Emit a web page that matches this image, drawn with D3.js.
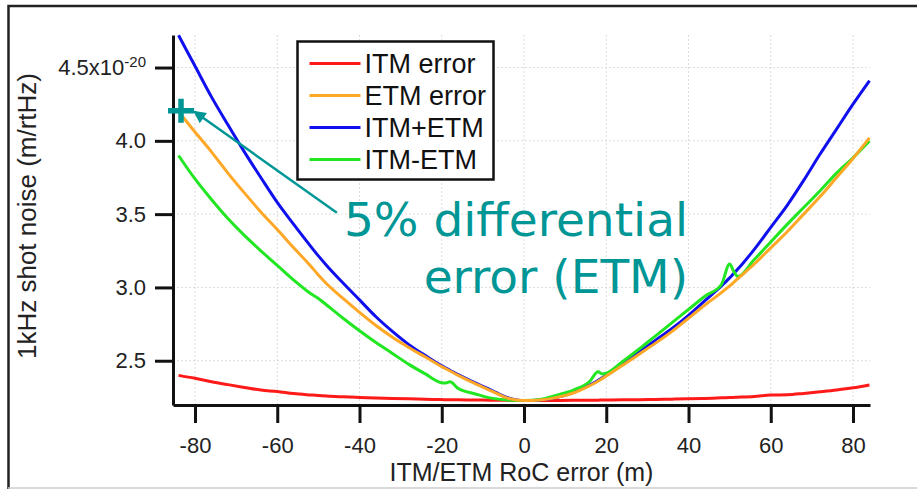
<!DOCTYPE html>
<html>
<head>
<meta charset="utf-8">
<script src="https://cdn.jsdelivr.net/npm/d3@7"></script>
<style>
  body { margin: 0; background: #fff; }
  svg { display: block; }
</style>
</head>
<body>
<div id="chart"></div>
<script>
// RoC error (m) shared by all four curves
var roc = [-84, -80, -76, -72, -68, -64, -60, -56, -52, -50, -48, -44, -40, -36, -32, -28, -24, -20, -19, -18,
           -16, -12, -8, -4, 0, 4, 8, 12, 16, 18, 19, 20, 24, 28, 32, 36, 40, 44, 48, 50,
           51, 52, 56, 60, 64, 68, 72, 76, 80, 84];

// 1kHz shot noise, units of 1e-20 m/rtHz
var itmError = [2.400, 2.380, 2.357, 2.337, 2.318, 2.300, 2.290, 2.276, 2.267, 2.263, 2.259, 2.254, 2.250, 2.246, 2.243, 2.240, 2.237, 2.235, 2.234, 2.234,
                2.233, 2.232, 2.231, 2.230, 2.229, 2.229, 2.229, 2.230, 2.231, 2.231, 2.232, 2.232, 2.233, 2.234, 2.236, 2.238, 2.240, 2.243, 2.247, 2.249,
                2.250, 2.251, 2.256, 2.266, 2.268, 2.277, 2.288, 2.300, 2.315, 2.335];
var etmError = [4.200, 4.060, 3.925, 3.780, 3.645, 3.515, 3.395, 3.270, 3.150, 3.085, 3.025, 2.925, 2.830, 2.740, 2.660, 2.590, 2.525, 2.460, 2.445, 2.430,
                2.400, 2.345, 2.295, 2.245, 2.228, 2.232, 2.250, 2.280, 2.330, 2.360, 2.378, 2.396, 2.470, 2.545, 2.620, 2.700, 2.790, 2.880, 2.965, 3.010,
                3.035, 3.060, 3.160, 3.270, 3.380, 3.500, 3.620, 3.750, 3.880, 4.020];
var itmPlusEtm = [4.720, 4.510, 4.300, 4.110, 3.925, 3.750, 3.580, 3.430, 3.285, 3.215, 3.150, 3.030, 2.915, 2.800, 2.700, 2.610, 2.535, 2.465, 2.450, 2.435,
                  2.405, 2.350, 2.300, 2.248, 2.228, 2.232, 2.250, 2.285, 2.335, 2.365, 2.383, 2.400, 2.480, 2.560, 2.640, 2.720, 2.810, 2.910, 3.010, 3.065,
                  3.095, 3.125, 3.260, 3.410, 3.560, 3.730, 3.910, 4.080, 4.250, 4.410];
var itmMinusEtm = [3.900, 3.740, 3.600, 3.470, 3.355, 3.250, 3.150, 3.050, 2.960, 2.925, 2.880, 2.790, 2.705, 2.625, 2.550, 2.475, 2.410, 2.350, 2.348, 2.356,
                   2.310, 2.275, 2.245, 2.232, 2.228, 2.235, 2.265, 2.300, 2.360, 2.425, 2.410, 2.415, 2.495, 2.580, 2.670, 2.760, 2.850, 2.940, 3.020, 3.160,
                   3.110, 3.075, 3.190, 3.310, 3.430, 3.545, 3.660, 3.780, 3.885, 4.000];

var seriesNames = ["ITM error", "ETM error", "ITM+ETM", "ITM-ETM"];
var seriesColors = ["#ff1a1a", "#ffa726", "#1010ee", "#22e622"];
var seriesValues = [itmError, etmError, itmPlusEtm, itmMinusEtm];

var xTicks = [-80, -60, -40, -20, 0, 20, 40, 60, 80];
var yTicks = [2.5, 3.0, 3.5, 4.0, 4.5];

// "5% differential" marker on the ETM curve
var markerPoint = [-83.4, 4.205];
var arrowFrom = [-45.5, 3.51];
var arrowTo = [-80.2, 4.2];
var noteLines = ["5% differential", "error (ETM)"];

var width = 917, height = 489;
var margin = {top: 35, right: 47, bottom: 84, left: 173};

var svg = d3.select("#chart").append("svg")
    .attr("width", width)
    .attr("height", height);

// outer frame of the slide
svg.append("path")
    .attr("d", "M8.5," + (height + 5) + " V6 H" + (width + 5))
    .attr("fill", "none")
    .attr("stroke", "#222")
    .attr("stroke-width", 2.5);
svg.append("line")
    .attr("x1", 8).attr("x2", width)
    .attr("y1", 488).attr("y2", 488)
    .attr("stroke", "#ccc")
    .attr("stroke-width", 1.5);

var x = d3.scaleLinear()
    .domain([-85.35, 84.13])
    .range([margin.left, width - margin.right]);

var y = d3.scaleLinear()
    .domain([2.198, 4.722])
    .range([height - margin.bottom, margin.top]);

// grid
svg.append("g").selectAll("line")
    .data(xTicks)
    .enter().append("line")
    .attr("x1", function(d) { return x(d); })
    .attr("x2", function(d) { return x(d); })
    .attr("y1", y.range()[0])
    .attr("y2", y.range()[1])
    .attr("stroke", "#dcdcdc")
    .attr("stroke-width", 1)
    .attr("stroke-dasharray", "2,2");

svg.append("g").selectAll("line")
    .data(yTicks)
    .enter().append("line")
    .attr("x1", x.range()[0])
    .attr("x2", x.range()[1])
    .attr("y1", function(d) { return y(d); })
    .attr("y2", function(d) { return y(d); })
    .attr("stroke", "#dcdcdc")
    .attr("stroke-width", 1)
    .attr("stroke-dasharray", "2,2");

// axes (plain hyphen for negatives, like the original)
var xAxis = svg.append("g")
    .attr("transform", "translate(0," + (height - margin.bottom) + ")")
    .call(d3.axisBottom(x).tickValues(xTicks).tickSize(18).tickSizeOuter(0).tickPadding(14)
        .tickFormat(function(d) { return String(d); }));

var yAxis = svg.append("g")
    .attr("transform", "translate(" + margin.left + ",0)")
    .call(d3.axisLeft(y).tickValues(yTicks).tickSize(18).tickSizeOuter(0).tickPadding(9)
        .tickFormat(function(d) { return d.toFixed(1); }));

[xAxis, yAxis].forEach(function(a) {
    a.select(".domain").attr("stroke", "#111").attr("stroke-width", 3);
    a.selectAll(".tick line").attr("stroke", "#111").attr("stroke-width", 3);
    a.selectAll(".tick text")
        .attr("fill", "#222")
        .style("font-family", "'Liberation Sans', Arial, sans-serif")
        .style("font-size", "22px");
});

// top tick gets the 10^-20 exponent
yAxis.selectAll(".tick text")
    .filter(function(d) { return d === 4.5; })
    .each(function() {
        var t = d3.select(this);
        t.text("");
        t.append("tspan").text("4.5x10");
        t.append("tspan").attr("dy", "-0.55em").style("font-size", "15px").text("-20");
    });

// axis titles
svg.append("text")
    .attr("x", (x.range()[0] + x.range()[1]) / 2)
    .attr("y", 481)
    .attr("text-anchor", "middle")
    .attr("fill", "#222")
    .style("font-family", "'Liberation Sans', Arial, sans-serif")
    .style("font-size", "25px")
    .text("ITM/ETM RoC error (m)");

svg.append("text")
    .attr("transform", "translate(36," + 216 + ") rotate(-90)")
    .attr("text-anchor", "middle")
    .attr("fill", "#222")
    .style("font-family", "'Liberation Sans', Arial, sans-serif")
    .style("font-size", "26px")
    .text("1kHz shot noise (m/rtHz)");

// curves
var line = d3.line()
    .curve(d3.curveMonotoneX)
    .x(function(d) { return x(d[0]); })
    .y(function(d) { return y(d[1]); });

var drawOrder = [0, 2, 3, 1];
drawOrder.forEach(function(i) {
    var pts = roc.map(function(r, k) { return [r, seriesValues[i][k]]; });
    svg.append("path")
        .datum(pts)
        .attr("fill", "none")
        .attr("stroke", seriesColors[i])
        .attr("stroke-width", 3)
        .attr("stroke-linejoin", "round")
        .attr("d", line);
});

// legend
var legend = svg.append("g").attr("transform", "translate(297.5,41.5)");
legend.append("rect")
    .attr("width", 196)
    .attr("height", 138)
    .attr("fill", "#fff")
    .attr("stroke", "#111")
    .attr("stroke-width", 2.5);

seriesNames.forEach(function(name, i) {
    var ly = 22 + i * 32;
    legend.append("line")
        .attr("x1", 12).attr("x2", 63)
        .attr("y1", ly).attr("y2", ly)
        .attr("stroke", seriesColors[i])
        .attr("stroke-width", 3);
    legend.append("text")
        .attr("x", 67)
        .attr("y", ly)
        .attr("dy", "0.35em")
        .attr("fill", "#111")
        .style("font-family", "'Liberation Sans', Arial, sans-serif")
        .style("font-size", "27px")
        .text(name);
});

// annotation
var teal = "#009696";
svg.append("defs").append("marker")
    .attr("id", "head")
    .attr("viewBox", "0 0 10 10")
    .attr("refX", 9).attr("refY", 5)
    .attr("markerWidth", 6).attr("markerHeight", 5)
    .attr("markerUnits", "strokeWidth")
    .attr("orient", "auto")
    .append("path")
    .attr("d", "M0,0 L10,5 L0,10 Z")
    .attr("fill", teal);

svg.append("line")
    .attr("x1", x(arrowFrom[0])).attr("y1", y(arrowFrom[1]))
    .attr("x2", x(arrowTo[0])).attr("y2", y(arrowTo[1]))
    .attr("stroke", teal)
    .attr("stroke-width", 2.5)
    .attr("marker-end", "url(#head)");

var mx = x(markerPoint[0]), my = y(markerPoint[1]);
svg.append("path")
    .attr("d", "M" + (mx - 13) + "," + my + " H" + (mx + 13) + " M" + mx + "," + (my - 12) + " V" + (my + 12))
    .attr("stroke", teal)
    .attr("stroke-width", 5.5);

noteLines.forEach(function(txt, i) {
    svg.append("text")
        .attr("x", 688)
        .attr("y", 236 + i * 57)
        .attr("text-anchor", "end")
        .attr("fill", teal)
        .style("font-family", "'Comic Sans MS', 'DejaVu Sans', sans-serif")
        .style("font-size", "47px")
        .text(txt);
});
</script>
</body>
</html>
